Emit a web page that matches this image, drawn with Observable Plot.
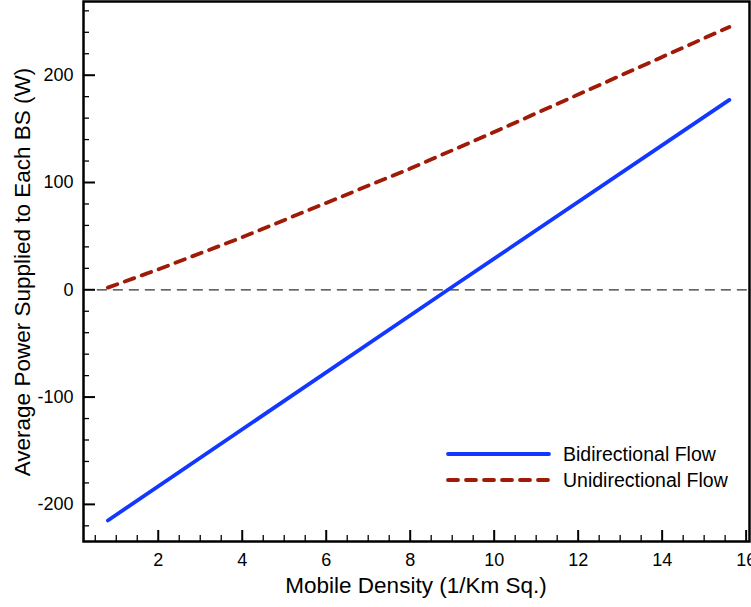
<!DOCTYPE html>
<html><head><meta charset="utf-8">
<script src="https://cdn.jsdelivr.net/npm/d3@7"></script>
<script src="https://cdn.jsdelivr.net/npm/@observablehq/plot@0.6"></script>
<style>
body{margin:0;background:#fff;}
#chart{position:relative;width:751px;height:607px;overflow:hidden;}
</style>
</head><body><div id="chart"></div>
<script>
// ---- data ----
const densityUni = [0.8, 2, 4, 6, 8, 10, 12, 14, 15.6];
const powerUni   = [2, 19, 49, 81, 113, 147, 182, 217, 245];
const densityBi  = [0.8, 8.9, 15.6];
const powerBi    = [-215, 0, 177];
const seriesNames = ["Bidirectional Flow", "Unidirectional Flow"];
const xTicks = [2, 4, 6, 8, 10, 12, 14, 16];
const yTicks = [-200, -100, 0, 100, 200];
const xMinorTicks = d3.range(1, 33).map(i => i * 0.5).filter(v => v % 2 !== 0);
const yMinorTicks = d3.range(-11, 14).map(i => i * 20).filter(v => v % 100 !== 0);
const xTitle = "Mobile Density (1/Km Sq.)";
const yTitle = "Average Power Supplied to Each BS (W)";

const W = 751, H = 607, mL = 83, mR = 2, mT = 1, mB = 66;
const xDomain = [0.22, 16.08];
const yDomain = [-234.6, 268.7];
const pxPerY = (H - mT - mB) / (yDomain[1] - yDomain[0]);
const pxPerX = (W - mL - mR) / (xDomain[1] - xDomain[0]);

const uni = densityUni.map((x, i) => ({x, y: powerUni[i]}));
const bi = densityBi.map((x, i) => ({x, y: powerBi[i]}));

const blue = "#1238ff", red = "#a01a08";
const dash = "10,8";
const font = "'Liberation Sans', Arial, Helvetica, sans-serif";

const plot = Plot.plot({
  width: W, height: H,
  marginLeft: mL, marginRight: mR, marginTop: mT, marginBottom: mB,
  style: {fontFamily: font, fontSize: "18px", color: "#000", background: "#fff", overflow: "hidden"},
  x: {domain: xDomain, label: null},
  y: {domain: yDomain, label: null},
  marks: [
    Plot.axisX(xTicks, {tickSize: 0, tickPadding: 12, tickFormat: d => String(d), fontSize: 18, label: null}),
    Plot.axisY(yTicks, {tickSize: 0, tickPadding: 10, tickFormat: d => String(d), fontSize: 18, label: null}),
    // inward ticks
    Plot.ruleX(xTicks, {x: d => d, y1: yDomain[0], y2: yDomain[0] + 11 / pxPerY, stroke: "#000", strokeWidth: 2}),
    Plot.ruleX(xMinorTicks, {x: d => d, y1: yDomain[0], y2: yDomain[0] + 6 / pxPerY, stroke: "#000", strokeWidth: 1.3}),
    Plot.ruleY(yTicks, {y: d => d, x1: xDomain[0], x2: xDomain[0] + 12 / pxPerX, stroke: "#000", strokeWidth: 2}),
    Plot.ruleY(yMinorTicks, {y: d => d, x1: xDomain[0], x2: xDomain[0] + 6 / pxPerX, stroke: "#000", strokeWidth: 1.3}),
    // zero reference line
    Plot.ruleY([0], {x1: 0.55, x2: xDomain[1], stroke: "#333", strokeWidth: 1.2, strokeDasharray: "10,6"}),
    Plot.line(bi, {x: "x", y: "y", stroke: blue, strokeWidth: 3.8, strokeLinecap: "round"}),
    Plot.line(uni, {x: "x", y: "y", stroke: red, strokeWidth: 3.8, strokeDasharray: dash, strokeLinecap: "round"}),
    Plot.frame({stroke: "#000", strokeWidth: 2.5})
  ]
});

const svg = d3.select(plot);
// legend
const lg = svg.append("g").attr("font-family", font).attr("font-size", 19.5).attr("text-anchor", "start");
[[blue, null], [red, dash]].forEach(([c, da], i) => {
  const yy = 454 + i * 26;
  const ln = lg.append("line").attr("x1", 448).attr("x2", 549).attr("y1", yy).attr("y2", yy)
    .attr("stroke", c).attr("stroke-width", 3.8).attr("stroke-linecap", "round");
  if (da) ln.attr("stroke-dasharray", da);
  lg.append("text").attr("x", 563).attr("y", yy).attr("dy", "0.35em").attr("fill", "#000")
    .attr("text-anchor", "start").text(seriesNames[i]);
});
// axis titles
svg.append("text").attr("x", (mL + W - mR) / 2).attr("y", 593).attr("text-anchor", "middle")
  .attr("font-family", font).attr("font-size", 22.5).attr("fill", "#000").text(xTitle);
svg.append("text").attr("transform", "translate(30,272) rotate(-90)").attr("text-anchor", "middle")
  .attr("font-family", font).attr("font-size", 22.5).attr("fill", "#000").text(yTitle);

document.getElementById("chart").appendChild(plot);
</script>
</body></html>
